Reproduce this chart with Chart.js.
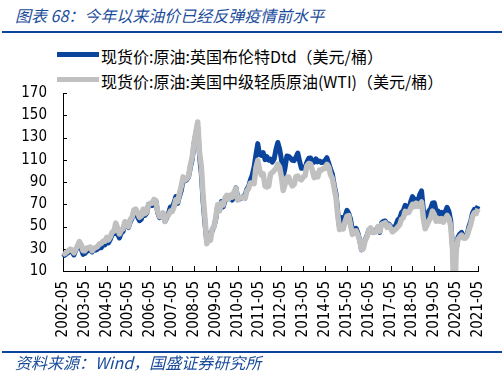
<!DOCTYPE html>
<html>
<head>
<meta charset="utf-8">
<script src="https://cdn.jsdelivr.net/npm/chart.js@4.4.1/dist/chart.umd.min.js"></script>
<style>
  html, body { margin: 0; padding: 0; background: #fff; }
  body { width: 504px; height: 380px; position: relative; overflow: hidden; }
  .title { position: absolute; left: 15px; top: 5px; font: italic 16px 'Noto Sans CJK SC', sans-serif; line-height: 20px; color: #1b4c9b; white-space: nowrap; }
  .rule { position: absolute; left: 2px; width: 500px; height: 2px; background: #0b449d; }
  .lg-row { position: absolute; left: 0; height: 20px; width: 504px; }
  .lg-sw { position: absolute; left: 57px; width: 42px; height: 5px; top: 8px; }
  .lg-tx { position: absolute; left: 101px; top: 0; line-height: 20px; font: 16px 'Noto Sans CJK SC', sans-serif; color: #000; white-space: nowrap; }
  .src { position: absolute; left: 15px; top: 352px; font: italic 16px 'Noto Sans CJK SC', sans-serif; line-height: 20px; color: #1b4c9b; white-space: nowrap; }
  .wrap { position: absolute; left: 0; top: 68px; width: 506px; height: 288px; }
</style>
</head>
<body>
<div class="title">图表 68：今年以来油价已经反弹疫情前水平</div>
<div class="rule" style="top:31px"></div>
<div id="legend"></div>
<div class="wrap"><canvas id="c" width="506" height="288"></canvas></div>
<div class="rule" style="top:351px"></div>
<div class="src">资料来源：Wind，国盛证券研究所</div>
<script>
// ---- categories (monthly, 2002-05 .. 2021-05) ----
const months = [];
for (let yr = 2002; yr <= 2021; yr++) {
  for (let m = 1; m <= 12; m++) {
    if ((yr === 2002 && m < 5) || (yr === 2021 && m > 5)) continue;
    months.push(yr + '-' + String(m).padStart(2, '0'));
  }
}
const tickLabels = ['2002-05','2003-05','2004-05','2005-05','2006-05','2007-05','2008-05','2009-05','2010-05','2011-05','2012-05','2013-05','2014-05','2015-05','2016-05','2017-05','2018-05','2019-05','2020-05','2021-05'];
const yTicks = [10, 30, 50, 70, 90, 110, 130, 150, 170];

const seriesNames = ['现货价:原油:英国布伦特Dtd（美元/桶）', '现货价:原油:美国中级轻质原油(WTI)（美元/桶）'];
const seriesColors = ['#0b449d', '#c0c0c0'];

// Brent Dtd (USD/bbl), monthly
const brent = [
  25.4, 24.1, 25.7, 26.6, 28.4, 27.5, 24.4, 28.5,                       // 2002 May-Dec
  31.2, 32.8, 30.3, 25.0, 25.8, 27.6, 28.4, 29.9, 27.1, 29.6, 28.8, 29.8, // 2003
  31.3, 30.9, 33.8, 33.4, 37.9, 35.2, 38.4, 43.0, 43.4, 49.8, 43.1, 39.7, // 2004
  44.3, 45.5, 53.1, 51.9, 49.0, 54.3, 57.6, 64.1, 62.9, 58.5, 55.2, 56.5, // 2005
  62.5, 60.0, 62.0, 70.0, 69.8, 68.9, 73.7, 73.2, 62.5, 58.0, 58.8, 62.0, // 2006
  54.5, 58.0, 62.1, 67.5, 67.5, 71.3, 77.0, 70.8, 77.2, 82.4, 92.2, 91.0, // 2007
  92.0, 94.8, 103.3, 110.4, 124.6, 133.0, 139.0, 113.2, 97.2, 71.6, 52.5, 36.0, // 2008
  43.4, 42.0, 46.5, 50.2, 57.3, 68.6, 64.4, 72.5, 67.7, 73.2, 77.0, 74.7, // 2009
  76.2, 73.8, 78.8, 84.8, 75.9, 74.8, 75.6, 77.1, 78.2, 83.5, 86.1, 92.0, // 2010
  96.5, 103.7, 114.6, 124.5, 114.5, 113.9, 116.5, 110.1, 112.8, 109.6, 110.5, 107.9, // 2011
  110.7, 119.3, 125.5, 119.8, 110.3, 95.2, 102.6, 113.4, 113.0, 111.5, 109.5, 109.2, // 2012
  112.3, 116.1, 108.5, 102.3, 102.6, 102.9, 107.9, 111.3, 111.6, 109.1, 107.8, 110.8, // 2013
  108.1, 108.9, 107.5, 107.8, 109.5, 111.8, 106.8, 101.6, 97.1, 87.4, 79.4, 62.3, // 2014
  47.8, 58.1, 55.9, 59.5, 64.6, 61.7, 56.5, 46.5, 47.6, 48.4, 44.3, 38.0, // 2015
  29.0, 32.2, 38.2, 41.6, 46.9, 48.3, 44.9, 45.8, 46.6, 49.5, 44.7, 53.3, // 2016
  54.6, 55.0, 51.6, 52.3, 50.3, 46.4, 48.5, 51.7, 56.2, 57.5, 62.7, 64.4, // 2017
  69.1, 65.3, 66.0, 72.1, 76.9, 74.4, 74.3, 72.5, 78.9, 82.0, 64.8, 57.4, // 2018
  59.4, 64.0, 66.1, 71.2, 71.3, 64.2, 63.9, 59.0, 62.8, 59.7, 63.2, 67.3, // 2019
  63.7, 55.5, 32.0, 16.0, 29.4, 40.3, 43.2, 44.7, 40.9, 40.2, 42.7, 49.9, // 2020
  54.8, 62.3, 65.4, 64.8, 68.5                                            // 2021 Jan-May
];

// WTI (USD/bbl), monthly
const wti = [
  27.0, 25.5, 26.9, 28.4, 29.7, 28.9, 26.3, 29.4,                       // 2002 May-Dec
  32.9, 36.5, 33.6, 28.3, 28.1, 30.7, 30.8, 31.6, 28.3, 30.3, 31.1, 32.1, // 2003
  34.3, 34.7, 36.7, 36.7, 40.3, 38.0, 40.7, 44.9, 45.9, 53.1, 48.5, 43.3, // 2004
  46.8, 48.0, 54.3, 53.0, 49.8, 56.3, 58.7, 65.0, 65.6, 62.4, 58.3, 59.4, // 2005
  65.5, 61.6, 62.9, 69.7, 70.9, 71.0, 74.4, 73.0, 63.8, 58.9, 59.1, 62.0, // 2006
  54.5, 59.3, 60.4, 63.9, 63.5, 67.5, 74.1, 72.4, 79.9, 86.2, 94.6, 91.7, // 2007
  93.0, 95.4, 105.5, 112.6, 125.4, 135.0, 144.0, 116.7, 104.1, 76.6, 57.3, 34.5, // 2008
  41.7, 37.5, 47.9, 49.7, 59.0, 69.6, 64.1, 71.1, 69.4, 75.7, 78.0, 74.5, // 2009
  78.3, 76.4, 81.2, 84.3, 73.7, 75.3, 76.3, 76.6, 75.2, 81.9, 84.3, 89.2, // 2010
  89.2, 88.6, 102.9, 109.5, 100.9, 96.3, 97.3, 86.3, 85.5, 86.3, 97.2, 98.6, // 2011
  100.3, 102.2, 106.2, 103.3, 94.7, 82.3, 87.9, 94.1, 94.5, 89.5, 86.5, 87.9, // 2012
  94.8, 95.3, 92.9, 92.0, 94.5, 95.8, 104.6, 106.6, 106.3, 100.5, 93.9, 97.6, // 2013
  94.6, 100.8, 100.8, 102.1, 102.2, 105.8, 103.6, 96.5, 93.2, 84.4, 75.8, 59.3, // 2014
  47.2, 50.6, 47.8, 54.5, 59.3, 59.8, 50.9, 42.9, 45.5, 46.2, 42.4, 37.2, // 2015
  29.5, 30.0, 37.5, 40.8, 46.7, 48.8, 44.7, 44.7, 45.2, 49.8, 45.7, 52.0, // 2016
  52.5, 53.5, 49.3, 51.1, 48.5, 45.2, 46.6, 48.0, 49.8, 51.6, 56.6, 57.9, // 2017
  63.7, 62.2, 62.7, 66.3, 70.0, 67.9, 71.0, 68.1, 70.2, 72.0, 57.0, 48.0, // 2018
  51.4, 55.0, 58.2, 63.9, 60.8, 54.7, 57.4, 54.8, 57.0, 54.0, 57.0, 59.9, // 2019
  57.5, 50.5, 29.2, -37.6, 28.5, 38.3, 40.7, 42.3, 39.6, 39.4, 41.4, 47.0, // 2020
  52.0, 59.0, 62.3, 61.7, 66.0                                            // 2021 Jan-May
];

// ---- legend (HTML) ----
const legendEl = document.getElementById('legend');
const rowTops = [44, 69];
seriesNames.forEach((name, i) => {
  const row = document.createElement('div');
  row.className = 'lg-row';
  row.style.top = rowTops[i] + 'px';
  const sw = document.createElement('div');
  sw.className = 'lg-sw';
  sw.style.background = seriesColors[i];
  const tx = document.createElement('div');
  tx.className = 'lg-tx';
  tx.textContent = name;
  row.appendChild(sw); row.appendChild(tx);
  legendEl.appendChild(row);
});

const tickFont = { family: "'DejaVu Sans Condensed', 'Liberation Sans', sans-serif", size: 15 };

const inwardTicks = {
  id: 'inwardTicks',
  beforeDatasetsDraw(chart) {
    const { ctx, chartArea, scales: { x, y } } = chart;
    ctx.save();
    ctx.strokeStyle = '#000';
    ctx.lineWidth = 1;
    ctx.beginPath();
    tickLabels.forEach(lbl => {
      const px = Math.round(x.getPixelForValue(months.indexOf(lbl))) + 0.5;
      ctx.moveTo(px, chartArea.bottom);
      ctx.lineTo(px, chartArea.bottom - 5);
    });
    yTicks.forEach(v => {
      const py = Math.round(y.getPixelForValue(v)) + 0.5;
      ctx.moveTo(chartArea.left, py);
      ctx.lineTo(chartArea.left + 4, py);
    });
    ctx.stroke();
    ctx.restore();
  }
};

new Chart(document.getElementById('c'), {
  type: 'line',
  data: {
    labels: months,
    datasets: [
      { label: seriesNames[0], data: brent, borderColor: seriesColors[0], backgroundColor: seriesColors[0],
        borderWidth: 5, borderJoinStyle: 'round', pointRadius: 0, tension: 0, order: 1,
        clip: { left: 3, right: 3, top: 3, bottom: 0 } },
      { label: seriesNames[1], data: wti, borderColor: seriesColors[1], backgroundColor: seriesColors[1],
        borderWidth: 5.5, borderJoinStyle: 'round', pointRadius: 0, tension: 0, order: 0,
        clip: { left: 3, right: 3, top: 3, bottom: 0 } }
    ]
  },
  options: {
    responsive: false,
    animation: false,
    events: [],
    layout: { padding: { left: 5.25, right: 26, top: 9, bottom: 8.6 } },
    plugins: { legend: { display: false }, tooltip: { enabled: false }, title: { display: false } },
    scales: {
      x: {
        type: 'category',
        offset: false,
        grid: { display: false, drawTicks: false },
        border: { display: true, color: '#000', width: 1 },
        ticks: {
          autoSkip: false, maxRotation: 90, minRotation: 90, padding: 10,
          color: '#000', font: tickFont,
          callback: function (val, idx) { const l = months[idx]; return tickLabels.includes(l) ? l : null; }
        }
      },
      y: {
        min: 10, max: 170,
        grid: { display: false, drawTicks: false },
        border: { display: true, color: '#000', width: 1 },
        ticks: { autoSkip: false, stepSize: 20, padding: 16, color: '#000', font: tickFont }
      }
    }
  },
  plugins: [inwardTicks]
});
</script>
</body>
</html>
